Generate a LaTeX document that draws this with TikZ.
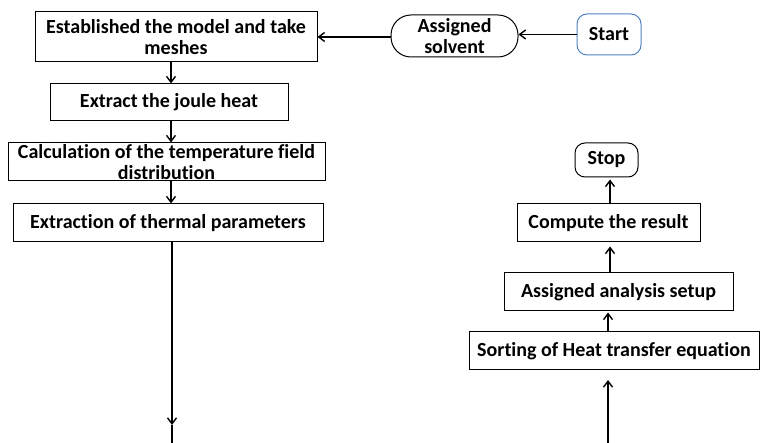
\documentclass[tikz,border=0pt]{standalone}
\usepackage{fontspec}
\setmainfont{Carlito}[Ligatures={NoCommon}]
\usetikzlibrary{arrows.meta}
\definecolor{startblue}{HTML}{4F81BD}
\begin{document}
\begin{tikzpicture}[x=1pt,y=-1pt,
  every node/.style={font=\bfseries\fontsize{20}{21}\selectfont, align=center, inner sep=0pt},
  box/.style={draw, line width=1pt, rectangle},
  term/.style={draw, line width=1pt, rounded corners=10pt},
  pill/.style={draw, line width=1pt, rounded corners=20pt},
  arr/.style={line width=1.4pt, -{Straight Barb[length=6pt,width=9pt]}},
  plain/.style={line width=1.4pt}]
\useasboundingbox (0,0) rectangle (761,443);

% left column
\node[box, minimum width=282, minimum height=50] (b1) at (176,37) {Established the model and take\\meshes};
\node[box, minimum width=238, minimum height=37] (b2) at (169,102.5) {Extract the joule heat};
\node[box, minimum width=317, minimum height=38] (b3) at (166.5,162) {Calculation of the temperature field\\distribution};
\node[box, minimum width=310, minimum height=38] (b4) at (168,223) {Extraction of thermal parameters};

% top row
\node[pill, minimum width=127, minimum height=42] (solv) at (454.5,36) {Assigned\\solvent};
\node[term, draw=startblue, minimum width=64, minimum height=41] (start) at (609,34.5) {Start};

% right column
\node[term, minimum width=63, minimum height=34] (stop) at (606.5,160) {Stop};
\node[box, minimum width=183, minimum height=38] (comp) at (608.5,223) {Compute the result};
\node[box, minimum width=229, minimum height=38] (setup) at (618.5,292) {Assigned analysis setup};
\node[box, minimum width=290, minimum height=38] (sort) at (614,351) {Sorting of Heat transfer equation};

% column guides
\coordinate (colL) at (171,0);
\coordinate (colR) at (610,0);
\coordinate (tipL) at (172,425);
\coordinate (endL) at (172,443);
\coordinate (endR) at (608,443);
\coordinate (tipR) at (608,380);

% connectors
\draw[arr] (start.west) -- (solv.east |- start.west);
\draw[arr] (solv.west |- b1.east) -- (b1.east);
\draw[arr] (b1.south -| colL) -- (b2.north -| colL);
\draw[arr] (b2.south -| colL) -- (b3.north -| colL);
\draw[arr] (b3.south -| colL) -- (b4.north -| colL);
\draw[arr] (b4.south -| tipL) -- (tipL);
\draw[plain] (tipL) -- (endL);
\draw[arr] (endR) -- (tipR);
\draw[arr] (sort.north -| endR) -- ([yshift=-1pt]setup.south -| endR);
\draw[arr] (setup.north -| colR) -- ([yshift=-4pt]comp.south -| colR);
\draw[arr] (comp.north -| colR) -- ([yshift=-2pt]stop.south -| colR);
\end{tikzpicture}
\end{document}
